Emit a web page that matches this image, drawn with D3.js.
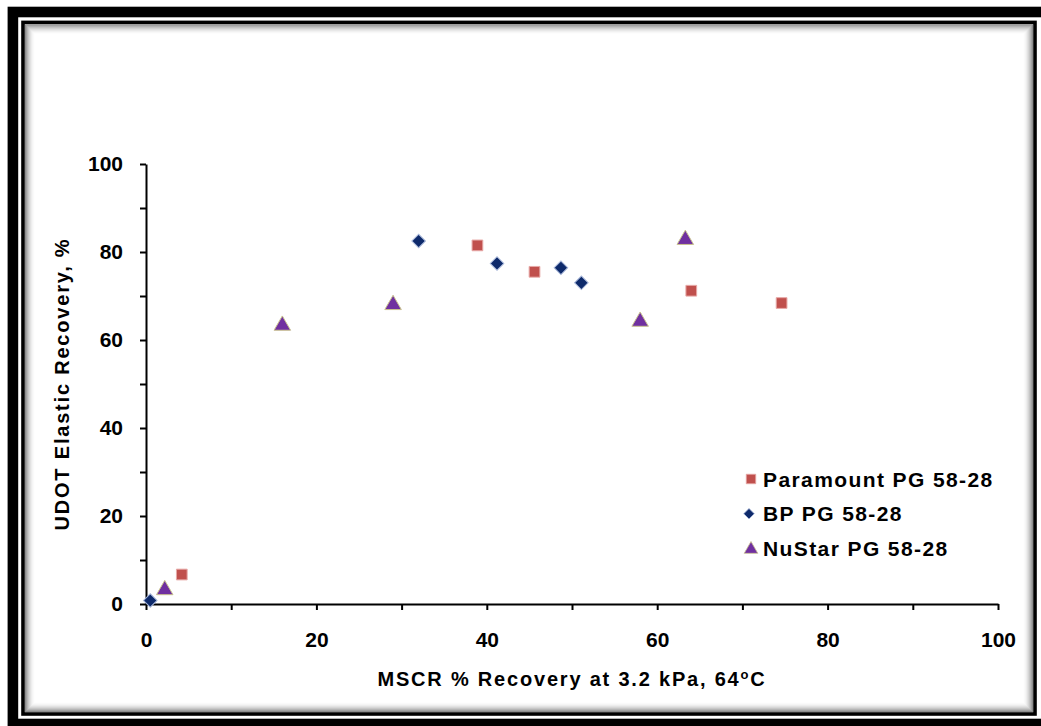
<!DOCTYPE html>
<html>
<head>
<meta charset="utf-8">
<script src="https://cdn.jsdelivr.net/npm/d3@7"></script>
<style>
  body { margin: 0; background: #fff; }
  svg { display: block; }
  text { font-family: Arial, "Liberation Sans", sans-serif; font-weight: bold; fill: #000; }
</style>
</head>
<body>
<svg id="chart" width="1041" height="726"></svg>
<script>
// series values
const paramountX = [4.2, 38.9, 45.6, 64.0, 74.6];
const paramountY = [6.7, 81.5, 75.5, 71.2, 68.4];
const bpX = [0.5, 32.0, 41.2, 48.7, 51.1];
const bpY = [0.8, 82.5, 77.4, 76.4, 73.0];
const nustarX = [2.2, 16.0, 29.0, 58.0, 63.3];
const nustarY = [3.2, 63.3, 68.0, 64.2, 82.8];

const seriesNames = ["Paramount PG 58-28", "BP PG 58-28", "NuStar PG 58-28"];
const xTicks = [0, 10, 20, 30, 40, 50, 60, 70, 80, 90, 100];
const yTicks = [0, 10, 20, 30, 40, 50, 60, 70, 80, 90, 100];

const width = 1041, height = 726;
const margin = {top: 164, right: 43, bottom: 122, left: 146};

const svg = d3.select("#chart");

// frame: thick outer band, thin inner line with a soft inner shadow
svg.append("rect")
  .attr("x", 12.9).attr("y", 12)
  .attr("width", 1045).attr("height", 712)
  .attr("fill", "none").attr("stroke", "#000").attr("stroke-width", 10.6);

for (let i = 0; i < 10; i++) {
  svg.append("rect")
    .attr("x", 25 + i + 0.5).attr("y", 24.5 + i + 0.5)
    .attr("width", 1033 - 25 - 2 * i - 1).attr("height", 712 - 24.5 - 2 * i - 1)
    .attr("fill", "none")
    .attr("stroke", "#000")
    .attr("stroke-opacity", 0.45 * Math.pow(1 - i / 10, 2));
}
svg.append("rect")
  .attr("x", 23).attr("y", 22.4)
  .attr("width", 1012).attr("height", 691.6)
  .attr("fill", "none").attr("stroke", "#000").attr("stroke-width", 3.6);

const x = d3.scaleLinear()
  .domain([0, 100])
  .range([margin.left, width - margin.right]);

const y = d3.scaleLinear()
  .domain([0, 100])
  .range([height - margin.bottom, margin.top]);

// axes, ticks every 10, labels every 20
const xAxis = svg.append("g")
  .attr("transform", "translate(0," + y(0) + ")")
  .call(d3.axisBottom(x)
    .tickValues(xTicks)
    .tickFormat(d => d % 20 === 0 ? d : "")
    .tickSize(6)
    .tickPadding(22)
    .tickSizeOuter(0));

const yAxis = svg.append("g")
  .attr("transform", "translate(" + x(0) + ",0)")
  .call(d3.axisLeft(y)
    .tickValues(yTicks)
    .tickFormat(d => d % 20 === 0 ? d : "")
    .tickSize(6)
    .tickPadding(17)
    .tickSizeOuter(0));

[xAxis, yAxis].forEach(g => {
  g.select(".domain").attr("stroke", "#000").attr("stroke-width", 2);
  g.selectAll(".tick line").attr("stroke", "#000").attr("stroke-width", 2);
  g.selectAll(".tick text")
    .attr("font-family", "Arial, 'Liberation Sans', sans-serif")
    .attr("font-size", 21)
    .attr("font-weight", "bold")
    .attr("fill", "#000");
});

// axis titles
const xTitle = svg.append("text")
  .attr("x", 572).attr("y", 686)
  .attr("text-anchor", "middle")
  .attr("font-size", 20)
  .attr("letter-spacing", 1.8);
xTitle.append("tspan").text("MSCR % Recovery at 3.2 kPa, 64");
xTitle.append("tspan").attr("font-size", 13).attr("dy", -7).text("o");
xTitle.append("tspan").attr("dy", 7).text("C");

svg.append("text")
  .attr("transform", "translate(69,384) rotate(-90)")
  .attr("text-anchor", "middle")
  .attr("font-size", 20)
  .attr("letter-spacing", 1.8)
  .text("UDOT Elastic Recovery, %");

// markers
const square = d3.symbol().type(d3.symbolSquare);
const triangle = d3.symbol().type(d3.symbolTriangle);

const series = [
  {xs: paramountX, ys: paramountY, path: square.size(115)(), rot: 0,
   fill: "#C0504D", stroke: "#E7A9A7"},
  {xs: bpX, ys: bpY, path: square.size(92)(), rot: 45,
   fill: "#0E2A6B", stroke: "#A9B8DA"},
  {xs: nustarX, ys: nustarY, path: triangle.size(118)(), rot: 0,
   fill: "#7030A0", stroke: "#C9C28E"}
];

series.forEach(s => {
  svg.append("g").selectAll("path")
    .data(d3.zip(s.xs, s.ys))
    .join("path")
    .attr("d", s.path)
    .attr("transform", d => "translate(" + x(d[0]) + "," + y(d[1]) + ") rotate(" + s.rot + ")")
    .attr("fill", s.fill)
    .attr("stroke", s.stroke)
    .attr("stroke-width", 1);
});

// legend
const legendSymbols = [square.size(90)(), square.size(56)(), triangle.size(80)()];
const legend = svg.append("g").attr("transform", "translate(751,479)");
seriesNames.forEach((name, i) => {
  const row = legend.append("g").attr("transform", "translate(0," + (i * 34.7) + ")");
  row.append("path")
    .attr("d", legendSymbols[i])
    .attr("transform", "translate(" + (i === 1 ? -2 : 0) + "," + (i === 2 ? 1 : 0) + ") rotate(" + series[i].rot + ")")
    .attr("fill", series[i].fill)
    .attr("stroke", series[i].stroke)
    .attr("stroke-width", 0.8);
  row.append("text")
    .attr("x", 12).attr("y", 7.5)
    .attr("font-size", 21)
    .attr("letter-spacing", 1.4)
    .text(name);
});
</script>
</body>
</html>
